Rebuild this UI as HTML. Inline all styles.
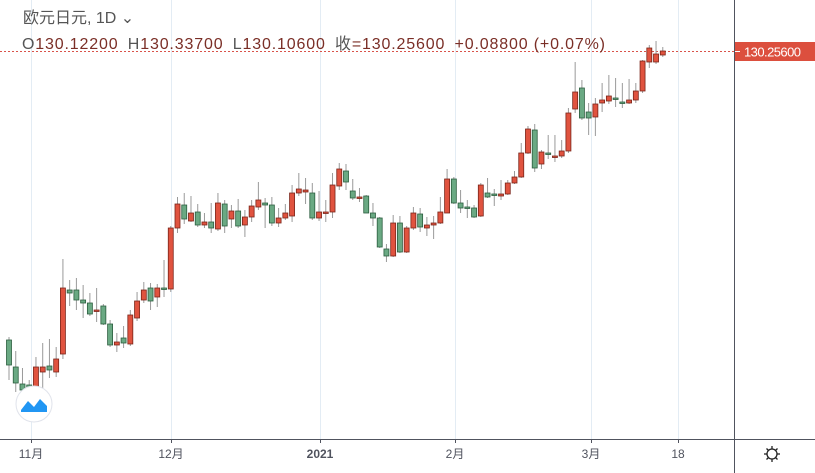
<!DOCTYPE html>
<html><head><meta charset="utf-8"><style>
body{margin:0;background:#fff;width:815px;height:473px;overflow:hidden;font-family:"Liberation Sans","Noto Sans CJK SC",sans-serif}
svg{position:absolute;left:0;top:0}
</style></head><body>
<svg width="815" height="473" xmlns="http://www.w3.org/2000/svg" id="s">
<g stroke="#e3ecf4" stroke-width="1">
<line x1="31.5" y1="0" x2="31.5" y2="439"/><line x1="171.5" y1="0" x2="171.5" y2="439"/>
<line x1="320.5" y1="0" x2="320.5" y2="439"/><line x1="455.5" y1="0" x2="455.5" y2="439"/>
<line x1="591.5" y1="0" x2="591.5" y2="439"/><line x1="678.5" y1="0" x2="678.5" y2="439"/>
</g>
<line x1="0" y1="51.5" x2="734" y2="51.5" stroke="#d9534a" stroke-width="1" stroke-dasharray="2,2"/>
<g id="c"></g>
<line x1="0" y1="439.5" x2="815" y2="439.5" stroke="#50535e"/>
<line x1="734.5" y1="0" x2="734.5" y2="473" stroke="#50535e"/>
<g stroke="#50535e"><line x1="31.5" y1="440" x2="31.5" y2="443"/><line x1="171.5" y1="440" x2="171.5" y2="443"/><line x1="320.5" y1="440" x2="320.5" y2="443"/><line x1="455.5" y1="440" x2="455.5" y2="443"/><line x1="591.5" y1="440" x2="591.5" y2="443"/><line x1="678.5" y1="440" x2="678.5" y2="443"/></g>
<g font-size="12" fill="#50535e" text-anchor="middle">
<text x="31" y="458">11月</text><text x="171" y="458">12月</text><text x="320" y="458" font-weight="bold">2021</text>
<text x="455" y="458">2月</text><text x="591" y="458">3月</text><text x="678" y="458">18</text></g>
<rect x="735" y="42" width="80" height="19" fill="#dc4f3e"/>
<line x1="735" y1="51.5" x2="740" y2="51.5" stroke="#fff"/>
<text x="744" y="56.5" font-size="13" fill="#fff" textLength="57">130.25600</text>
<g transform="translate(772,454)" stroke="#222" fill="none" stroke-width="1.3">
<circle r="5"/><line x1="0" y1="-8" x2="0" y2="-5"/><line x1="0" y1="5" x2="0" y2="8"/><line x1="-8" y1="0" x2="-5" y2="0"/><line x1="5" y1="0" x2="8" y2="0"/>
<line x1="-5.5" y1="-5.5" x2="-3.5" y2="-3.5"/><line x1="5.5" y1="5.5" x2="3.5" y2="3.5"/><line x1="-5.5" y1="5.5" x2="-3.5" y2="3.5"/><line x1="5.5" y1="-5.5" x2="3.5" y2="-3.5"/></g>
<circle cx="34" cy="404" r="18" fill="#fff" stroke="#e0e3eb"/>
<path d="M21 410 L28 401 L34 407 L40 399 L47 406 L47 412 L21 412 Z" fill="#2196f3"/>
<text x="23" y="23" font-size="16" fill="#555">欧元日元, 1D ⌄</text>
<text x="22" y="49" font-size="16" fill="#7a2e26" textLength="583" lengthAdjust="spacing"><tspan fill="#555">O</tspan>130.12200 <tspan fill="#555" dx="4">H</tspan>130.33700 <tspan fill="#555" dx="4">L</tspan>130.10600 <tspan fill="#555" dx="4">收</tspan>=130.25600 <tspan dx="4">+0.08800 (+0.07%)</tspan></text>
</svg>
<script>
var d=[[340,365,337,380],[367,383,351,392],[384,390,368,395],[385,392,380,400],[390,367,357,392],[372,367,343,390],[366,370,339,378],[372,359,347,377],[354,288,259,359],[290,293,280,306],[290,300,278,310],[300,303,285,318],[303,314,293,316],[311,310,288,322],[306,324,304,325],[324,345,320,347],[345,342,333,352],[338,343,326,348],[344,315,310,346],[318,301,292,321],[300,290,282,303],[288,301,283,310],[297,288,284,307],[288,289,260,297],[289,228,226,292],
[228,204,197,233],[205,219,193,224],[221,213,196,222],[212,225,204,227],[225,222,213,228],[222,228,203,233],[229,203,193,231],[204,226,200,233],[219,211,205,228],[211,226,199,228],[225,217,210,237],[217,206,200,222],[207,200,182,210],[203,205,198,228],[205,223,197,226],[223,218,208,227],[218,213,204,220],[216,193,185,222],[193,189,173,196],[192,190,178,204],[193,218,183,220],[218,212,191,221],[213,212,200,222],[212,185,173,218],[186,169,163,190],[171,182,164,190],[191,198,179,200],[198,197,188,202],[196,213,195,213],[213,218,203,226],[218,247,217,248],[249,256,244,262],[256,223,215,257],[223,252,216,253],[252,228,226,253],[228,213,207,230],[214,227,208,232],[228,225,217,236],[225,223,216,239],[223,212,197,224],[213,179,169,213],[179,203,177,204],[203,208,190,213],[207,208,200,218],[208,217,205,218],[216,185,183,217],[193,197,178,198],[194,195,189,206],[196,194,180,200],[194,183,180,195],[183,177,171,184],[177,153,143,178],[153,129,126,154],[130,168,124,172],[164,152,150,169],[153,154,135,159],[157,156,135,162],[156,151,140,158],[151,113,108,153],[109,92,62,113],[88,118,80,120],[112,118,103,135],[117,104,98,136],[103,100,83,112],[101,96,75,104],[98,99,78,107],[102,103,83,108],[103,100,79,104],[100,91,83,103],[91,61,60,93],[62,48,45,68],[62,54,41,64],[55,51,47,57]];
var g=document.getElementById('c'),h='';
d.forEach(function(c,i){var x=9+i*6.74,o=c[0],cl=c[1],up=cl<o;
var top=Math.min(o,cl),bh=Math.max(Math.abs(o-cl),1.5);
h+='<line x1="'+x+'" y1="'+c[2]+'" x2="'+x+'" y2="'+c[3]+'" stroke="#9a9a9a" stroke-width="1"/>';
h+='<rect x="'+(x-2.5)+'" y="'+top+'" width="5" height="'+bh+'" fill="'+(up?'#e0533f':'#6aa983')+'" stroke="'+(up?'#7a2519':'#2c5e3f')+'" stroke-width="0.8"/>';});
g.innerHTML=h;
</script>
</body></html>
